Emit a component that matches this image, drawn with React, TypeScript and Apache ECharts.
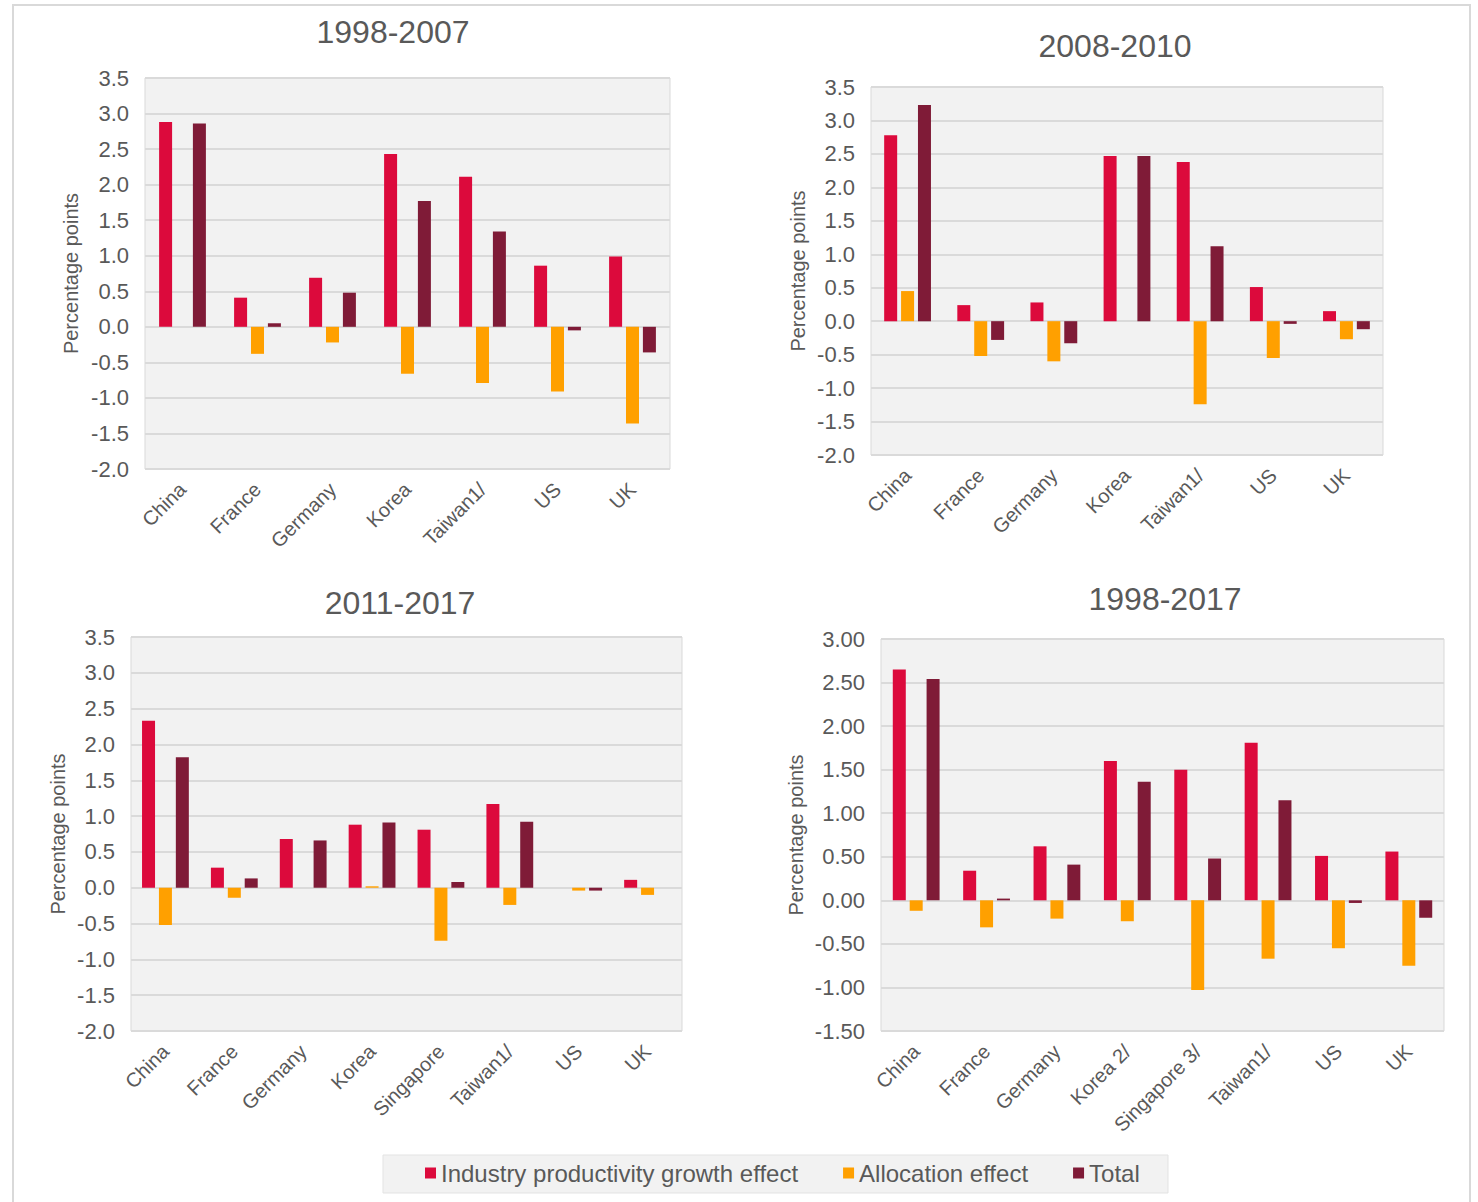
import React, { useEffect, useRef } from "react";
import * as echarts from "echarts";

// Categories per panel
const catsEarly = ["China", "France", "Germany", "Korea", "Taiwan1/", "US", "UK"];
const catsLate = ["China", "France", "Germany", "Korea", "Singapore", "Taiwan1/", "US", "UK"];
const catsAll = ["China", "France", "Germany", "Korea 2/", "Singapore 3/", "Taiwan1/", "US", "UK"];

// 1998-2007
const p1Industry = [2.88, 0.41, 0.69, 2.43, 2.11, 0.86, 0.99];
const p1Allocation = [0, -0.38, -0.22, -0.66, -0.79, -0.91, -1.36];
const p1Total = [2.86, 0.05, 0.48, 1.77, 1.34, -0.05, -0.36];

// 2008-2010
const p2Industry = [2.78, 0.24, 0.28, 2.47, 2.38, 0.51, 0.15];
const p2Allocation = [0.45, -0.52, -0.6, 0, -1.24, -0.55, -0.27];
const p2Total = [3.23, -0.28, -0.33, 2.47, 1.12, -0.04, -0.12];

// 2011-2017
const p3Industry = [2.33, 0.28, 0.68, 0.88, 0.81, 1.17, 0, 0.11];
const p3Allocation = [-0.52, -0.14, 0, 0.02, -0.74, -0.24, -0.04, -0.1];
const p3Total = [1.82, 0.13, 0.66, 0.91, 0.08, 0.92, -0.04, 0];

// 1998-2017
const p4Industry = [2.65, 0.34, 0.62, 1.6, 1.5, 1.81, 0.51, 0.56];
const p4Allocation = [-0.12, -0.31, -0.21, -0.24, -1.03, -0.67, -0.55, -0.75];
const p4Total = [2.54, 0.02, 0.41, 1.36, 0.48, 1.15, -0.03, -0.2];

const seriesNames = ["Industry productivity growth effect", "Allocation effect", "Total"];
const seriesColors = ["#DC0A3C", "#FFA000", "#7F1B37"];

const FONT = "'Liberation Sans', Arial, sans-serif";
const TEXT = "#595959";

const panels = [
  { title: "1998-2007", cats: catsEarly, data: [p1Industry, p1Allocation, p1Total], grid: { left: 145, top: 78, width: 525, height: 391 }, min: -2, max: 3.5, digits: 1, titlePos: [393, 32], nameGap: 64 },
  { title: "2008-2010", cats: catsEarly, data: [p2Industry, p2Allocation, p2Total], grid: { left: 871, top: 87, width: 512, height: 368 }, min: -2, max: 3.5, digits: 1, titlePos: [1115, 46], nameGap: 63 },
  { title: "2011-2017", cats: catsLate, data: [p3Industry, p3Allocation, p3Total], grid: { left: 131, top: 637, width: 551, height: 394 }, min: -2, max: 3.5, digits: 1, titlePos: [400, 603], nameGap: 63 },
  { title: "1998-2017", cats: catsAll, data: [p4Industry, p4Allocation, p4Total], grid: { left: 881, top: 639, width: 563, height: 392 }, min: -1.5, max: 3, digits: 2, titlePos: [1165, 599], nameGap: 75 },
];

export default function App() {
  const ref = useRef<HTMLDivElement>(null);

  useEffect(() => {
    if (!ref.current) return;
    const chart = echarts.init(ref.current, null, { renderer: "svg" });

    const grids = panels.map((p) => ({
      ...p.grid,
      show: true,
      backgroundColor: "#F2F2F2",
      borderColor: "#D9D9D9",
      borderWidth: 1,
      containLabel: false,
    }));

    const xAxes = panels.map((p, i) => ({
      type: "category",
      gridIndex: i,
      data: p.cats,
      axisLine: { show: false, onZero: false },
      axisTick: { show: false },
      axisLabel: { rotate: 45, margin: 17, color: TEXT, fontSize: 20, fontFamily: FONT, interval: 0 },
    }));

    const yAxes = panels.map((p, i) => ({
      type: "value",
      gridIndex: i,
      min: p.min,
      max: p.max,
      interval: 0.5,
      name: "Percentage points",
      nameLocation: "middle",
      nameRotate: 90,
      nameGap: p.nameGap,
      nameTextStyle: { color: TEXT, fontSize: 20, fontFamily: FONT },
      axisLine: { show: false },
      axisTick: { show: false },
      axisLabel: {
        color: TEXT,
        fontSize: 22,
        fontFamily: FONT,
        margin: 16,
        formatter: (v: number) => v.toFixed(p.digits),
      },
      splitLine: { lineStyle: { color: "#DADADA", width: 2 } },
    }));

    const series: any[] = [];
    panels.forEach((p, i) => {
      p.data.forEach((vals, k) => {
        series.push({
          type: "bar",
          name: seriesNames[k],
          xAxisIndex: i,
          yAxisIndex: i,
          data: vals,
          barWidth: 13,
          barGap: "30%",
          itemStyle: { color: seriesColors[k] },
        });
      });
    });

    const titles = panels.map((p) => ({
      type: "text",
      x: p.titlePos[0],
      y: p.titlePos[1],
      style: {
        text: p.title,
        fill: TEXT,
        font: `32px ${FONT}`,
        textAlign: "center",
        textVerticalAlign: "middle",
      },
      silent: true,
    }));

    chart.setOption({
      animation: false,
      backgroundColor: "#FFFFFF",
      grid: grids,
      xAxis: xAxes,
      yAxis: yAxes,
      series,
      legend: {
        data: seriesNames,
        left: 425,
        top: 1161,
        icon: "rect",
        itemWidth: 11,
        itemHeight: 11,
        itemGap: 45,
        padding: 0,
        textStyle: { color: TEXT, fontSize: 24, fontFamily: FONT },
        selectedMode: false,
      },
      graphic: [
        {
          type: "rect",
          shape: { x: 13, y: 5, width: 1457, height: 1200 },
          style: { fill: "none", stroke: "#D9D9D9", lineWidth: 2 },
          silent: true,
          z: -1,
        },
        {
          type: "rect",
          shape: { x: 383, y: 1155, width: 785, height: 38 },
          style: { fill: "#F2F2F2", stroke: "#E3E3E3", lineWidth: 1 },
          silent: true,
          z: -1,
        },
        ...titles,
      ],
    });

    return () => chart.dispose();
  }, []);

  return (
    <div
      ref={ref}
      style={{ position: "absolute", left: 0, top: 0, width: 1478, height: 1202 }}
    />
  );
}
